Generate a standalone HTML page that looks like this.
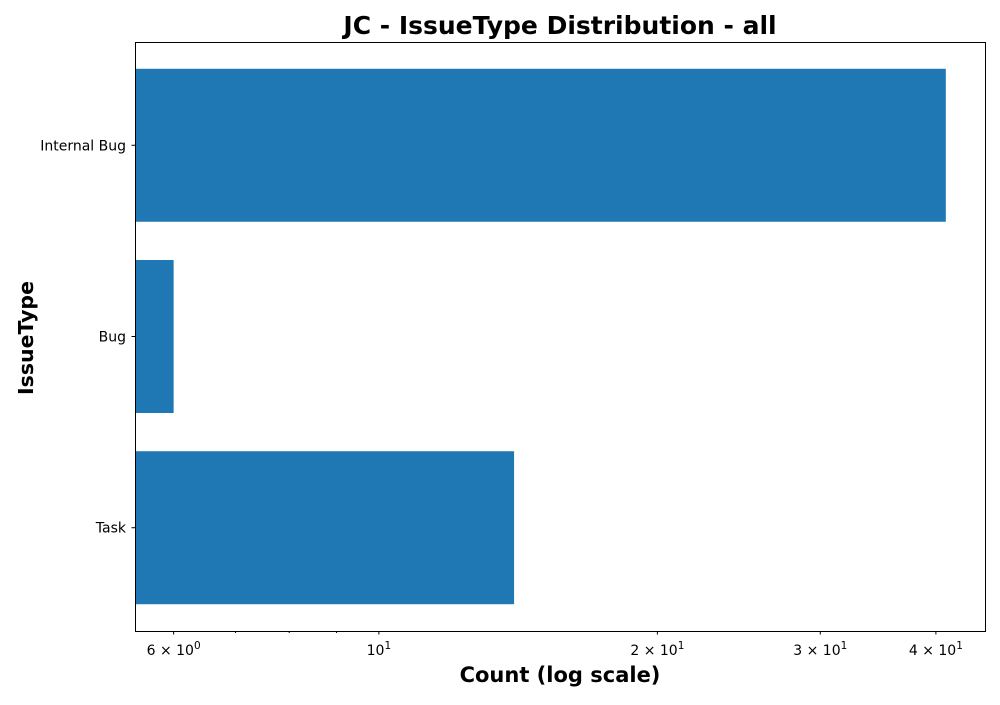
<!DOCTYPE html>
<html><head><meta charset="utf-8"><style>
body{margin:0;background:#fff;}
svg text{font-family:"DejaVu Sans","Liberation Sans",sans-serif;}
</style></head><body>
<svg id="c" width="1000" height="700" xmlns="http://www.w3.org/2000/svg">
<text x="560" y="34" text-anchor="middle" font-size="25" font-weight="bold">JC - IssueType Distribution - all</text>
<text x="560" y="682" text-anchor="middle" font-size="21" font-weight="bold">Count (log scale)</text>
<text transform="translate(33,338) rotate(-90)" text-anchor="middle" font-size="20.5" font-weight="bold">IssueType</text>
<g id="plot"></g>
<rect x="135.5" y="42.5" width="850" height="589" fill="none" stroke="#000" stroke-width="1"/>
</svg>
<script>
const categories = ["Internal Bug", "Bug", "Task"];
const counts = [41, 6, 14];
const majorTicks = [6, 10, 20, 30, 40];
const majorLabels = [["6","0"], ["","1"], ["2","1"], ["3","1"], ["4","1"]];
const minorTicks = [7, 8, 9];

const L = 135, R = 985, T = 42, B = 631;
const xmin = 5.45, xmax = 45.2;
function xs(v){ return L + (Math.log10(v) - Math.log10(xmin)) / (Math.log10(xmax) - Math.log10(xmin)) * (R - L); }
const ymin = -0.54, ymax = categories.length - 1 + 0.54;
function ys(i){ const v = categories.length - 1 - i; return B - (v - ymin) / (ymax - ymin) * (B - T); }
const bandPx = (B - T) / (ymax - ymin);
const g = document.getElementById('plot');
const NS = "http://www.w3.org/2000/svg";
function mk(tag, attrs){ const e = document.createElementNS(NS, tag); for (const k in attrs) e.setAttribute(k, attrs[k]); g.appendChild(e); return e; }

counts.forEach((v, i) => {
  const yc = ys(i), h = bandPx * 0.8;
  const r = mk('rect', {x: L, y: yc - h/2, width: Math.max(0, xs(v) - L), height: h, fill: '#1f77b4'});
  
  
  const tk = mk('line', {x1: L - 3.5, x2: L, y1: yc, y2: yc, stroke: '#000'});
  
  
  const t = mk('text', {x: L - 9, y: yc + 5, 'text-anchor': 'end', 'font-size': 14});
  t.textContent = categories[i];
  
  
});

majorTicks.forEach((v, i) => {
  const x = xs(v);
  const tk = mk('line', {x1: x, x2: x, y1: B, y2: B + 3.5, stroke: '#000'});
  
  
  const t = mk('text', {x: x, y: B + 24, 'text-anchor': 'middle', 'font-size': 14});
  const [m, e] = majorLabels[i];
  t.innerHTML = (m ? m + ' \u00d7 ' : '') + '10<tspan dy="-6" font-size="10.5">' + e + '</tspan>';
  
  
});
minorTicks.forEach(v => {
  const x = xs(v);
  const tk = mk('line', {x1: x, x2: x, y1: B, y2: B + 2, stroke: '#000'});
  
  
});
</script>
</body></html>
